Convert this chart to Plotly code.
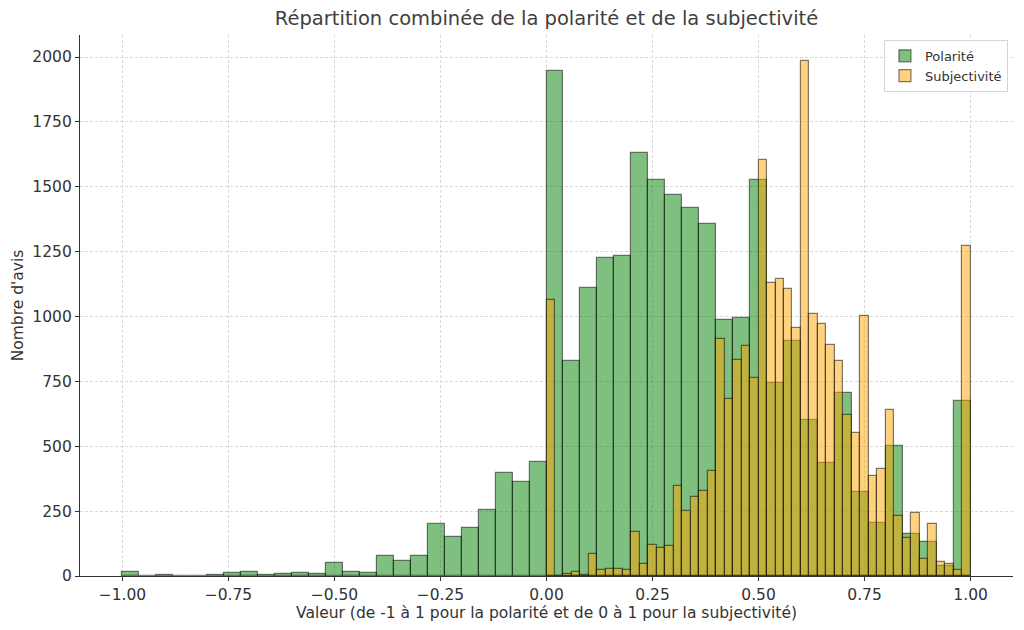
import numpy as np
import plotly.graph_objects as go

# Histogram counts (50 bins each)
pol_edges = np.linspace(-1.0, 1.0, 51)
pol_counts = [16, 0, 3, 0, 0, 4, 10, 14, 5, 6,
              10, 6, 49, 14, 13, 76, 56, 76, 202, 152,
              186, 255, 396, 362, 441, 1948, 829, 1111, 1226, 1235,
              1630, 1527, 1470, 1420, 1358, 987, 996, 1528, 742, 904,
              602, 434, 705, 323, 206, 500, 160, 130, 37, 676]

subj_edges = np.linspace(0.0, 1.0, 51)
subj_counts = [1064, 0, 8, 15, 3, 86, 22, 28, 27, 24,
               170, 46, 121, 108, 115, 347, 249, 304, 327, 404,
               914, 683, 832, 886, 762, 1602, 1131, 1145, 1107, 957,
               1986, 1008, 973, 891, 829, 619, 551, 1003, 384, 413,
               639, 230, 145, 243, 67, 199, 53, 48, 25, 1273]

x_ticks = [-1.0, -0.75, -0.5, -0.25, 0.0, 0.25, 0.5, 0.75, 1.0]
y_ticks = [0, 250, 500, 750, 1000, 1250, 1500, 1750, 2000]

title = "Répartition combinée de la polarité et de la subjectivité"
x_title = "Valeur (de -1 à 1 pour la polarité et de 0 à 1 pour la subjectivité)"
y_title = "Nombre d'avis"

FONT = "DejaVu Sans"
TXT = "#333333"

fig = go.Figure()

def add_hist(edges, counts, color, name):
    edges = np.asarray(edges)
    centers = (edges[:-1] + edges[1:]) / 2
    widths = edges[1:] - edges[:-1]
    fig.add_trace(go.Bar(
        x=centers, y=counts, width=widths, name=name,
        marker=dict(color=color, line=dict(color="rgba(0,0,0,0.5)", width=1.2)),
    ))

add_hist(pol_edges, pol_counts, "rgba(0,128,0,0.5)", "Polarité")
add_hist(subj_edges, subj_counts, "rgba(255,165,0,0.5)", "Subjectivité")

fig.update_layout(
    width=1024, height=630,
    barmode="overlay", bargap=0,
    paper_bgcolor="white", plot_bgcolor="white",
    margin=dict(l=80, r=11, t=35, b=54, autoexpand=False),
    font=dict(family=FONT, color=TXT, size=15),
    title=dict(text=title, x=0.5, xref="paper", xanchor="center",
               y=1 - 18 / 630, yanchor="middle",
               font=dict(family=FONT, size=19.5, color="#404040")),
    legend=dict(x=0.9946, y=0.991, xanchor="right", yanchor="top",
                bgcolor="rgba(255,255,255,0.8)", bordercolor="#d5d5d5",
                borderwidth=1, font=dict(family=FONT, size=13, color=TXT),
                tracegroupgap=0),
    showlegend=True,
)

fig.update_xaxes(
    range=[-1.1, 1.1], tickvals=x_ticks, tickformat=".2f",
    ticks="outside", ticklen=4, tickcolor="#333333",
    tickfont=dict(family=FONT, size=15.5, color=TXT),
    showline=True, linecolor="#333333", linewidth=1.2,
    showgrid=True, gridcolor="#d9d9d9", griddash="3px,2px", gridwidth=0.8,
    zeroline=False, automargin=False,
    title=dict(text=x_title, font=dict(family=FONT, size=15.5, color=TXT), standoff=0),
)
fig.update_yaxes(
    range=[0, 2085], tickvals=y_ticks,
    ticks="outside", ticklen=4, tickcolor="#333333",
    tickfont=dict(family=FONT, size=15.5, color=TXT),
    showline=True, linecolor="#333333", linewidth=1.2,
    showgrid=True, gridcolor="#d9d9d9", griddash="3px,2px", gridwidth=0.8,
    zeroline=False, automargin=False,
    title=dict(text=y_title, font=dict(family=FONT, size=15.5, color=TXT), standoff=4),
)

fig.write_html("out.html")
